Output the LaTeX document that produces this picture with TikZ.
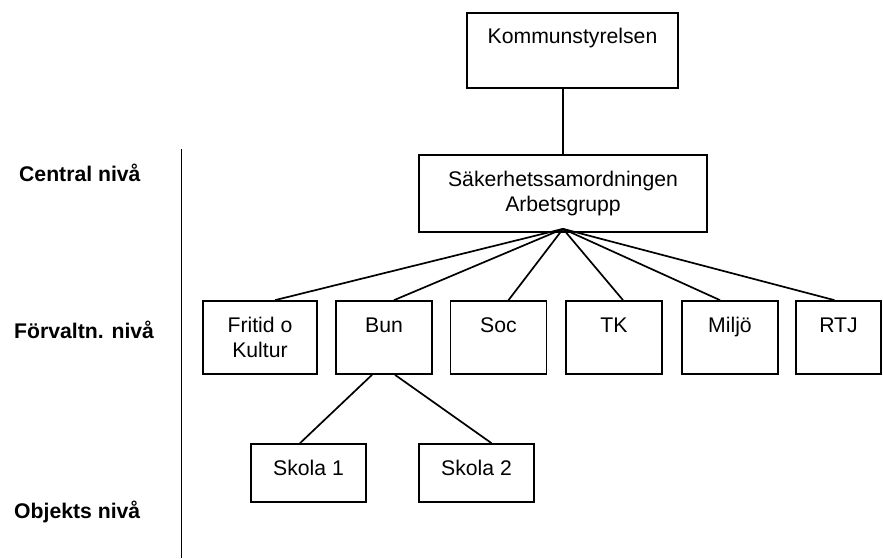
\documentclass[tikz,border=0pt]{standalone}
\usepackage{fontspec}
\setmainfont{Liberation Sans}
\usepackage{tikz}

\begin{document}
\begin{tikzpicture}[x=1pt, y=-1pt, line width=1.7pt,
        every node/.style={font=\fontsize{21.2pt}{24.5pt}\selectfont},
        box/.style={draw, inner sep=0pt, align=center},
        enhet/.style={box, minimum width=96pt, minimum height=73pt, text height=31pt, text depth=42pt},
        skola/.style={box, minimum width=115pt, minimum height=58pt, text height=31pt, text depth=27pt},
        niva/.style={anchor=base west, font=\fontsize{21.2pt}{24.5pt}\selectfont\bfseries}]
        \useasboundingbox (0,0) rectangle (883,558);
        \node[box, minimum width=211pt, minimum height=75pt, text height=30pt, text depth=45pt] (ks) at (572.5,50.5) {Kommunstyrelsen};
        \node[box, minimum width=288pt, minimum height=77pt] (sam) at (563,193.5) {Säkerhetssamordningen\\Arbetsgrupp};
        \node[box, minimum width=114pt, minimum height=73pt] (fritid) at (260,337.5) {Fritid o\\Kultur};
        \node[enhet] (bun) at (384,337.5) {Bun};
        \node[enhet] (soc) at (498.5,337.5) {Soc};
        \node[enhet] (tk) at (614,337.5) {TK};
        \node[enhet] (miljo) at (730,337.5) {Miljö};
        \node[enhet, minimum width=85pt] (rtj) at (838.5,337.5) {RTJ};
        \node[skola] (skola1) at (308.5,473) {Skola 1};
        \node[skola] (skola2) at (476.5,473) {Skola 2};
        \node[niva] (central) at (15,181.5) {Central nivå};
        \node[niva] (forvaltn) at (10,338) {Förvaltn. nivå};
        \node[niva] (objekt) at (10,518) {Objekts nivå};
        \coordinate (apex) at ([yshift=4pt]sam.south);
        \draw (181.5,149) -- (181.5,558);
        \draw (sam.north) -- (sam.north |- ks.south);
        \draw (apex) -- ([xshift=15pt]fritid.north);
        \draw (apex) -- ([xshift=10pt]bun.north);
        \draw (apex) -- ([xshift=10pt]soc.north);
        \draw (apex) -- ([xshift=9pt]tk.north);
        \draw (apex) -- ([xshift=-10pt]miljo.north);
        \draw (apex) -- ([xshift=-4pt]rtj.north);
        \draw ([xshift=-12pt]bun.south) -- ([xshift=-8.5pt]skola1.north);
        \draw ([xshift=11pt]bun.south) -- ([xshift=15pt]skola2.north);
\end{tikzpicture}
\end{document}
